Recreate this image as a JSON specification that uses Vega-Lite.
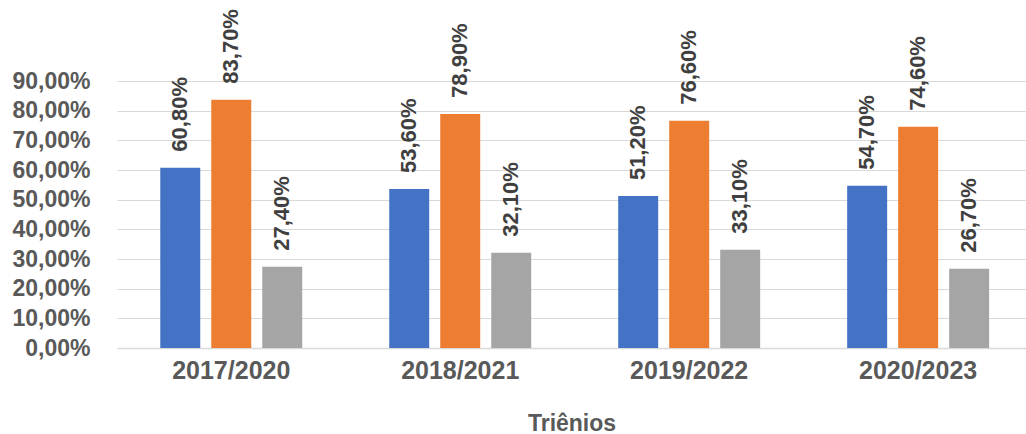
{
  "$schema": "https://vega.github.io/schema/vega-lite/v6.json",
  "autosize": {"type": "none"},
  "padding": {"left": 117, "top": 81, "right": 0, "bottom": 86},
  "width": 909,
  "height": 267,
  "background": "white",
  "config": {"view": {"stroke": null}, "font": "Liberation Sans"},
  "data": {"values": [
    {"periodo": "2017/2020", "serie": "A", "valor": 60.8},
    {"periodo": "2017/2020", "serie": "B", "valor": 83.7},
    {"periodo": "2017/2020", "serie": "C", "valor": 27.4},
    {"periodo": "2018/2021", "serie": "A", "valor": 53.6},
    {"periodo": "2018/2021", "serie": "B", "valor": 78.9},
    {"periodo": "2018/2021", "serie": "C", "valor": 32.1},
    {"periodo": "2019/2022", "serie": "A", "valor": 51.2},
    {"periodo": "2019/2022", "serie": "B", "valor": 76.6},
    {"periodo": "2019/2022", "serie": "C", "valor": 33.1},
    {"periodo": "2020/2023", "serie": "A", "valor": 54.7},
    {"periodo": "2020/2023", "serie": "B", "valor": 74.6},
    {"periodo": "2020/2023", "serie": "C", "valor": 26.7}
  ]},
  "transform": [
    {"calculate": "replace(format(datum.valor, '.2f'), '.', ',') + '%'", "as": "rotulo"}
  ],
  "encoding": {
    "x": {"field": "periodo", "type": "nominal", "sort": null,
      "scale": {"paddingInner": 0.38, "paddingOuter": 0.175, "align": 0.54},
      "axis": {"title": "Triênios", "labelAngle": 0, "labelFontSize": 25, "labelFontWeight": "bold", "labelColor": "#595959",
        "labelPadding": 10, "titleFontSize": 23, "titleFontWeight": "bold", "titleColor": "#595959", "titlePadding": 29,
        "ticks": false, "domainColor": "#d9d9d9", "domainWidth": 1.5, "grid": false}},
    "xOffset": {"field": "serie", "type": "nominal", "scale": {"paddingInner": 0.216, "paddingOuter": 0}},
    "y": {"field": "valor", "type": "quantitative",
      "scale": {"domain": [0, 90], "nice": false},
      "axis": {"title": null, "values": [0,10,20,30,40,50,60,70,80,90],
        "labelExpr": "replace(format(datum.value, '.2f'), '.', ',') + '%'",
        "labelFontSize": 23, "labelFontWeight": "bold", "labelColor": "#595959", "labelPadding": 27,
        "ticks": false, "domain": false, "gridColor": "#d9d9d9", "gridWidth": 1.2}}
  },
  "layer": [
    {"mark": {"type": "bar"},
     "encoding": {"color": {"field": "serie", "type": "nominal", "legend": null,
       "scale": {"domain": ["A", "B", "C"], "range": ["#4472C4", "#ED7D31", "#A5A5A5"]}}}},
    {"mark": {"type": "text", "angle": 270, "align": "left", "baseline": "middle", "dx": 16, "fontSize": 22, "fontWeight": "bold", "color": "#404040", "clip": false},
     "encoding": {"text": {"field": "rotulo", "type": "nominal"}}}
  ]
}
